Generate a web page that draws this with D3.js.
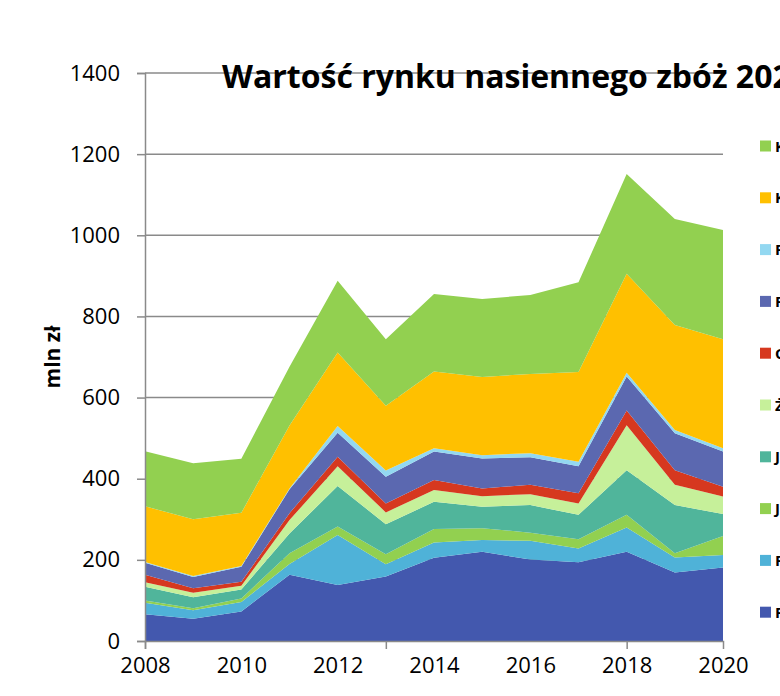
<!DOCTYPE html>
<html>
<head>
<meta charset="utf-8">
<script src="https://cdn.jsdelivr.net/npm/d3@7"></script>
<style>
	body { margin: 0; background: #fff; overflow: hidden; }
	svg { display: block; font-family: "Open Sans", sans-serif; }
</style>
</head>
<body>
<svg id="svg"></svg>
<script>
var years = [2008, 2009, 2010, 2011, 2012, 2013, 2014, 2015, 2016, 2017, 2018, 2019, 2020];

var seriesNames = ["Pszenica ozima", "Pszenica jara", "Jęczmień ozimy", "Jęczmień jary", "Żyto",
	"Owies", "Pszenżyto ozime", "Pszenżyto jare", "Kukurydza na ziarno", "Kukurydza na kiszonkę"];

var seriesColors = ["#4358ae", "#4fb2d8", "#92d050", "#50b59b", "#c6f09a",
	"#d6381f", "#5b68b0", "#93d8f1", "#ffc000", "#92d050"];

// mln zł
var pszenicaOzima   = [66, 55, 73, 163, 138, 159, 205, 220, 201, 194, 220, 169, 181];
var pszenicaJara    = [28, 21, 23, 27, 123, 30, 38, 29, 46, 34, 60, 37, 31];
var jeczmienOzimy   = [6, 5, 9, 26, 21, 25, 33, 29, 20, 23, 31, 10, 47];
var jeczmienJary    = [34, 27, 22, 49, 100, 74, 67, 53, 68, 60, 110, 119, 54];
var zyto            = [11, 11, 9, 33, 49, 29, 29, 26, 27, 28, 111, 50, 43];
var owies           = [18, 11, 10, 17, 23, 22, 25, 19, 23, 25, 36, 36, 24];
var pszenzytoOzime  = [30, 28, 37, 59, 59, 66, 70, 74, 68, 67, 84, 91, 87];
var pszenzytoJare   = [2, 2, 2, 2, 17, 15, 8, 8, 10, 11, 9, 8, 8];
var kukurydzaZiarno = [137, 140, 131, 155, 181, 160, 189, 193, 195, 221, 244, 259, 269];
var kukurydzaKiszonka = [136, 138, 133, 145, 177, 164, 191, 192, 195, 221, 246, 261, 269];

var yTicks = [0, 200, 400, 600, 800, 1000, 1200, 1400];
var xLabels = [2008, 2010, 2012, 2014, 2016, 2018, 2020];
var xTickMarks = [2008, 2013, 2018];

var seriesValues = [pszenicaOzima, pszenicaJara, jeczmienOzimy, jeczmienJary, zyto,
	owies, pszenzytoOzime, pszenzytoJare, kukurydzaZiarno, kukurydzaKiszonka];

var width = 780,
	height = 696,
	plotLeft = 145,
	plotRight = 723,
	plotTop = 73,
	plotBottom = 641,
	axisColor = "#8a8a8a";

var rows = years.map(function(yr, i){
	var row = {year: yr};
	seriesNames.forEach(function(name, j){
		row[name] = seriesValues[j][i];
	});
	return row;
});

var svg = d3.select("#svg")
	.attr("width", width)
	.attr("height", height);

var x = d3.scaleLinear()
	.domain([2008, 2020])
	.range([plotLeft, plotRight]);

var y = d3.scaleLinear()
	.domain([0, 1400])
	.range([plotBottom, plotTop]);

// gridlines behind the areas
svg.append("g")
	.selectAll("line")
	.data(yTicks.slice(1))
	.enter()
	.append("line")
	.attr("x1", plotLeft)
	.attr("x2", plotRight)
	.attr("y1", function(d){ return y(d); })
	.attr("y2", function(d){ return y(d); })
	.attr("stroke", axisColor)
	.attr("stroke-width", 1.5);

var stacked = d3.stack().keys(seriesNames)(rows);

var area = d3.area()
	.x(function(d){ return x(d.data.year); })
	.y0(function(d){ return y(d[0]); })
	.y1(function(d){ return y(d[1]); });

svg.append("g")
	.selectAll("path")
	.data(stacked)
	.enter()
	.append("path")
	.attr("d", area)
	.attr("fill", function(d, i){ return seriesColors[i]; });

// chart title (sits over the top gridline)
svg.append("text")
	.attr("x", 222)
	.attr("y", 88)
	.attr("font-size", 32)
	.attr("font-weight", "bold")
	.text("Wartość rynku nasiennego zbóż 2020");

// y axis
var yAxis = svg.append("g")
	.attr("transform", "translate(" + plotLeft + ",0)")
	.call(d3.axisLeft(y).tickValues(yTicks).tickSize(8).tickPadding(17).tickFormat(d3.format("d")));

yAxis.select(".domain").attr("stroke", axisColor).attr("stroke-width", 1.5);
yAxis.selectAll(".tick line").attr("stroke", axisColor).attr("stroke-width", 1.5);
yAxis.selectAll(".tick text")
	.attr("font-size", 22)
	.attr("font-family", "Open Sans, sans-serif")
	.attr("fill", "#000");

// x axis: tick marks every 5 years, labels every 2
var xAxis = svg.append("g")
	.attr("transform", "translate(0," + plotBottom + ")")
	.call(d3.axisBottom(x).tickValues(xTickMarks).tickSize(8).tickFormat(""));

xAxis.select(".domain").attr("stroke", axisColor).attr("stroke-width", 1.5);
xAxis.selectAll(".tick line").attr("stroke", axisColor).attr("stroke-width", 1.5);

var xLabelAxis = svg.append("g")
	.attr("transform", "translate(0," + plotBottom + ")")
	.call(d3.axisBottom(x).tickValues(xLabels).tickSize(0).tickPadding(16).tickFormat(d3.format("d")));

xLabelAxis.select(".domain").remove();
xLabelAxis.selectAll(".tick text")
	.attr("font-size", 22)
	.attr("font-family", "Open Sans, sans-serif")
	.attr("fill", "#000");

// axis title
svg.append("text")
	.attr("transform", "translate(60,357) rotate(-90)")
	.attr("text-anchor", "middle")
	.attr("font-size", 21)
	.attr("font-weight", "bold")
	.text("mln zł");

// legend, top series first
var legend = svg.append("g")
	.selectAll("g")
	.data(d3.range(seriesNames.length).reverse())
	.enter()
	.append("g")
	.attr("transform", function(d, i){ return "translate(760," + (146 + i * 51.8) + ")"; });

legend.append("rect")
	.attr("x", 0)
	.attr("y", -5.5)
	.attr("width", 11)
	.attr("height", 11)
	.attr("fill", function(d){ return seriesColors[d]; });

legend.append("text")
	.attr("x", 15)
	.attr("y", 5.5)
	.attr("font-size", 15)
	.attr("font-weight", "bold")
	.text(function(d){ return seriesNames[d]; });
</script>
</body>
</html>
